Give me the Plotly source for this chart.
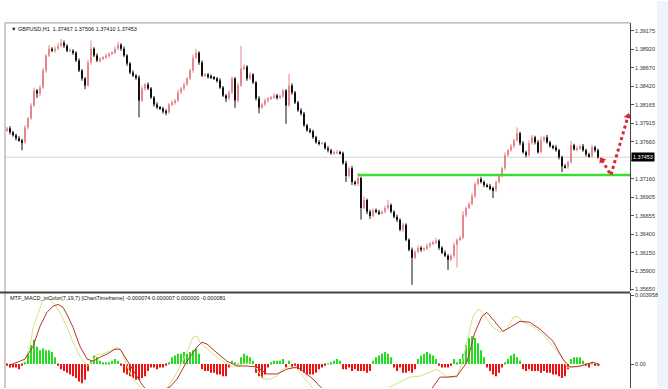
import plotly.graph_objects as go

# ---------------- data ----------------
first_open = 1.37820
closes = [
1.37847, 1.37792, 1.37752, 1.37711, 1.37684, 1.37657, 1.37860, 1.37982, 1.38159, 1.38362,
1.38321, 1.38403, 1.38633, 1.38837, 1.38932, 1.38904, 1.38932, 1.38972, 1.39013, 1.38972,
1.38904, 1.38904, 1.38877, 1.38769, 1.38633, 1.38525, 1.38430, 1.38742, 1.38932, 1.38837,
1.38769, 1.38796, 1.38809, 1.38837, 1.38864, 1.38877, 1.38932, 1.38986, 1.38932, 1.38837,
1.38728, 1.38606, 1.38565, 1.38538, 1.38226, 1.38389, 1.38443, 1.38389, 1.38267, 1.38172,
1.38131, 1.38118, 1.38077, 1.38064, 1.38172, 1.38199, 1.38226, 1.38335, 1.38389, 1.38443,
1.38525, 1.38633, 1.38809, 1.38877, 1.38742, 1.38565, 1.38579, 1.38552, 1.38538, 1.38525,
1.38498, 1.38403, 1.38294, 1.38254, 1.38335, 1.38525, 1.38226, 1.38430, 1.38660, 1.38687,
1.38525, 1.38579, 1.38471, 1.38254, 1.38131, 1.38172, 1.38226, 1.38254, 1.38267, 1.38294,
1.38267, 1.38281, 1.38362, 1.38159, 1.38430, 1.38335, 1.38199, 1.38091, 1.38050, 1.37887,
1.37820, 1.37806, 1.37725, 1.37657, 1.37643, 1.37643, 1.37576, 1.37548, 1.37508, 1.37521,
1.37521, 1.37508, 1.37372, 1.37196, 1.37304, 1.37115, 1.37087, 1.37169, 1.36762, 1.36870,
1.36708, 1.36653, 1.36735, 1.36708, 1.36694, 1.36708, 1.36762, 1.36803, 1.36708, 1.36640,
1.36599, 1.36464, 1.36531, 1.36328, 1.36192, 1.36084, 1.36165, 1.36220, 1.36192, 1.36206,
1.36247, 1.36274, 1.36287, 1.36314, 1.36220, 1.36152, 1.36111, 1.36057, 1.36111, 1.36260,
1.36328, 1.36355, 1.36667, 1.36762, 1.36816, 1.36925, 1.37087, 1.37155, 1.37115, 1.37074,
1.37060, 1.37033, 1.37006, 1.37115, 1.37196, 1.37304, 1.37481, 1.37548, 1.37603, 1.37684,
1.37779, 1.37643, 1.37521, 1.37481, 1.37643, 1.37725, 1.37657, 1.37521, 1.37684, 1.37725,
1.37657, 1.37603, 1.37589, 1.37548, 1.37453, 1.37331, 1.37318, 1.37386, 1.37616, 1.37562,
1.37576, 1.37603, 1.37548, 1.37494, 1.37467, 1.37589, 1.37548, 1.37453]

# wick lengths above / below the body, in pips
upper_wick = [
2,3,2,2,3,2,3,2,3,4, 2,3,4,2,5,2,3,4,5,3,
2,3,2,2,3,2,2,4,11,2, 3,2,2,3,2,2,3,4,2,3,
2,2,3,2,3,4,2,3,2,2, 3,2,2,3,2,3,2,4,2,3,
2,3,4,5,2,3,2,2,3,2, 2,3,2,2,3,3,2,4,31,3,
2,3,2,2,3,2,3,2,2,3, 2,3,2,2,16,3,2,2,3,2,
2,3,2,2,3,2,2,3,2,2, 3,2,2,3,2,3,2,7,2,5,
2,3,2,2,3,2,3,7,2,2, 3,2,3,2,2,3,2,3,2,2,
3,2,3,4,2,2,3,2,2,3, 2,3,5,2,3,4,3,2,3,2,
2,3,2,2,3,2,4,2,3,2, 8,2,3,2,4,3,2,3,5,2,
3,2,2,3,2,2,3,2,6,2, 3,2,3,2,2,3,2,2]
lower_wick = [
2,3,2,3,2,11,2,3,2,2, 6,4,2,3,2,2,3,2,2,3,
2,2,3,2,2,3,5,2,3,2, 2,3,2,2,3,2,2,2,3,2,
3,2,2,3,23,2,3,2,2,3, 2,2,3,4,2,2,3,2,2,3,
2,2,3,2,3,2,2,3,2,2, 3,2,2,5,2,2,10,3,2,2,
3,2,2,3,8,2,2,3,2,2, 3,2,2,25,2,3,2,2,3,2,
2,3,2,2,3,2,2,3,2,2, 3,2,2,8,2,4,2,3,16,2,
3,4,2,2,3,2,2,3,2,2, 3,2,3,2,2,37,2,2,3,2,
2,3,2,2,3,2,2,14,2,3, 31,2,2,3,2,2,3,2,2,3,
2,3,11,3,2,2,3,2,2,3, 2,3,2,3,2,2,3,2,2,3,
2,2,3,2,3,8,2,3,2,2, 3,2,2,3,2,2,3,2]

hist = [
-0.0001,-0.0002,-0.0002,-0.0002,-0.0003,-0.0001,0.0001,0.0006,0.0011,0.0014,
0.0010,0.0008,0.0009,0.0008,0.0008,0.0007,0.0004,-0.0001,-0.0003,-0.0004,
-0.0005,-0.0006,-0.0007,-0.0008,-0.0010,-0.0011,-0.0009,-0.0004,0.0002,0.0005,
0.0004,0.0002,0.0001,0.0001,0.0001,0.0002,0.0003,0.0002,-0.0001,-0.0005,
-0.0006,-0.0007,-0.0008,-0.0009,-0.0009,-0.0008,-0.0007,-0.0004,-0.0002,-0.0002,
-0.0003,-0.0002,-0.0002,-0.0001,0.0001,0.0004,0.0005,0.0006,0.0006,0.0007,
0.0006,0.0007,0.0008,0.0009,0.0006,-0.0003,-0.0004,-0.0004,-0.0005,-0.0005,
-0.0006,-0.0006,-0.0007,-0.0007,-0.0002,0.0002,0.0001,0.00003,0.0004,0.0006,
0.0005,0.0004,0.0002,-0.0005,-0.0007,-0.0008,-0.0006,-0.0002,0.0001,0.0002,
0.0002,0.0002,0.0003,-0.0002,0.0002,-0.0002,-0.0001,-0.0003,-0.0004,-0.0005,
-0.0006,-0.0006,-0.0006,-0.0005,-0.0003,-0.0002,-0.0001,0.00003,0.0001,0.0002,
0.0003,0.0002,-0.0003,-0.0003,-0.0002,-0.0004,-0.0003,-0.0004,-0.0004,-0.0004,
-0.0005,-0.0004,0.0002,0.0004,0.0005,0.0006,0.0007,0.0006,0.0004,-0.0002,
-0.0004,-0.0002,-0.0005,-0.0005,-0.0004,-0.0005,-0.0003,0.0003,0.0005,0.0006,
0.0007,0.0006,0.0005,0.0003,-0.0001,-0.0002,-0.0002,-0.0002,-0.0001,0.0003,
0.0001,0.0003,0.0006,0.0011,0.0015,0.0016,0.0015,0.0012,0.0008,0.0004,
-0.0002,-0.0004,-0.0006,-0.0007,-0.0005,-0.0002,0.0001,0.0003,0.0005,0.0006,
0.0004,0.0002,-0.0003,-0.0004,-0.0003,-0.0004,-0.0004,-0.0004,-0.0005,-0.0004,
-0.0005,-0.0005,-0.0006,-0.0006,-0.0007,-0.0008,-0.0007,-0.0003,0.0003,0.0004,
0.0004,0.0004,0.0002,-0.0001,-0.0002,0.0001,-0.0001,-0.0001]

macd_idx = [5.3,7.7,8.7,10,11.7,13.3,14.3,16,18.3,20.3,22,24.3,26.7,28.3,30,32,34.3,36.7,38.3,40,
            42,44.3,46.7,49.3,53.3,56.7,60,62,63.3,64.3,66.7,68.7,72,75.3,78.7,81,83.3,85.3,87.7,90,
            92,94.3,96.7,98.7,101,103,107.7,114.3,121,125.3,127.7,131,134.3,137.7,141,143.3,146.7,150,152,153.7,
            155.3,157,158.3,160,162,164.3,166.7,168.7,170.3,172,175.3,178.7,182,185,186.7,190,193.3,195.3,197.7]
macd_val = [0.0,0.00103,0.00212,0.00275,0.00356,0.00384,0.00373,0.00344,0.00275,0.00201,0.00126,0.00046,-0.00011,0.00011,0.00057,0.00057,0.00075,0.00098,0.00075,-0.00011,
            -0.00086,-0.00132,-0.00172,-0.00201,-0.00143,-0.00046,0.00069,0.00155,0.00161,0.00126,0.00086,0.00057,0.00017,-0.00017,0.0,0.00011,-0.00029,-0.00086,-0.00086,-0.00069,
            -0.00029,-0.00011,-0.00029,-0.00069,-0.00115,-0.00155,-0.00258,-0.00344,-0.00315,-0.00201,-0.00132,-0.00103,-0.00075,-0.00069,-0.00046,-0.00029,-0.00075,-0.00075,0.00029,0.00161,
            0.00275,0.00315,0.00304,0.00258,0.00212,0.00184,0.00201,0.0027,0.00275,0.00241,0.00218,0.00172,0.00103,0.0004,-0.00017,-0.00017,0.0,0.00011,-0.00006]
signal_idx = [1,6,8.7,11,13.3,15.3,17,18.7,20.3,22,24.3,26.7,28.7,31,33.3,36,37.7,39.3,41.7,43.7,
              45.3,47.7,51,54.3,56.7,60,63.3,65,66.7,69.3,73.3,76.7,80,83.3,86.7,90,93.3,96.7,97.7,102,
              105.3,111,117.7,126,134.3,139.3,142,144.3,146.7,150,153.3,156,158.3,160,162,165.3,167.7,171,174.3,177.7,
              182,185.3,187.7,191,193.3,195.3,197.7]
signal_val = [-0.00006,0.00029,0.00103,0.00218,0.00298,0.00333,0.00344,0.00327,0.00275,0.00212,0.00103,0.00029,0.00017,0.0004,0.00057,0.00086,0.00086,0.0004,-0.00029,-0.00086,
              -0.00126,-0.00166,-0.00155,-0.00132,-0.00086,0.00017,0.00098,0.00126,0.00115,0.00075,0.00017,-0.00011,-0.00011,-0.00017,-0.00057,-0.00057,-0.00029,-0.00017,-0.00029,-0.00086,
              -0.00143,-0.00258,-0.00373,-0.00373,-0.00287,-0.00189,-0.00132,-0.00075,-0.00075,-0.00069,0.00011,0.00184,0.00275,0.00298,0.00258,0.00189,0.00212,0.00247,0.00241,0.00201,
              0.00132,0.00029,-0.00017,-0.00011,0.0,0.00011,-0.00006]

# 1.37410 sits behind the current-price box, so its label is not shown
price_ticks = [1.39175, 1.38920, 1.38670, 1.38420, 1.38165, 1.37915, 1.37660, 1.37410,
               1.37160, 1.36905, 1.36655, 1.36400, 1.36150, 1.35900, 1.35650]
hidden_tick = 1.37410
macd_ticks = [0.003958, 0.0]
macd_tick_text = ["0.003958", "0.00"]
last_price = 1.37453
level_price = 1.3721
level_start = 117
arrow_idx = [198.3, 201.3, 207.0]
arrow_price = [1.37413, 1.37209, 1.38010]

title_main = "\u25bc GBPUSD,H1  1.37467 1.37506 1.37410 1.37453"
title_macd = "MTF_MACD_inColor(7,19,7) [ChartTimeframe] -0.000074 0.000007 0.000000 -0.000081"

# ---------------- build ----------------
PIP = 0.0001
W, H = 668, 389
BULL = "#e8868e"
BEAR = "#111111"
FONT = "Liberation Sans"

n = len(closes)
idx = list(range(n))
opens = [first_open] + closes[:-1]          # each bar opens at the previous close
highs = [max(o, c) + u * PIP for o, c, u in zip(opens, closes, upper_wick)]
lows = [min(o, c) - d * PIP for o, c, d in zip(opens, closes, lower_wick)]

fig = go.Figure()

for bull, col in ((True, BULL), (False, BEAR)):
    sel = [i for i in idx if (closes[i] >= opens[i]) == bull]
    wx, wy = [], []
    for i in sel:
        wx += [i, i, None]
        wy += [lows[i], highs[i], None]
    fig.add_trace(go.Scatter(x=wx, y=wy, mode="lines", line=dict(color=col, width=1),
                             hoverinfo="skip", showlegend=False, xaxis="x", yaxis="y"))
    fig.add_trace(go.Bar(x=sel, y=[max(abs(closes[i] - opens[i]), 0.00004) for i in sel],
                         base=[min(closes[i], opens[i]) for i in sel], width=0.65,
                         marker=dict(color=col, line=dict(width=0)),
                         showlegend=False, xaxis="x", yaxis="y"))

# level line and projected path
fig.add_trace(go.Scatter(x=[level_start, 207.667], y=[level_price, level_price], mode="lines",
                         line=dict(color="#3ddc2f", width=2.5), showlegend=False,
                         xaxis="x", yaxis="y", cliponaxis=False))
fig.add_trace(go.Scatter(x=arrow_idx, y=arrow_price, mode="lines",
                         line=dict(color="#d42a35", width=3, dash="dot"), showlegend=False,
                         xaxis="x", yaxis="y", cliponaxis=False))
fig.add_trace(go.Scatter(x=[arrow_idx[0], arrow_idx[-1]], y=[arrow_price[0], arrow_price[-1]],
                         mode="markers", marker=dict(symbol="triangle-up", size=7, color="#d42a35",
                                                     angle=[-31, 16]),
                         showlegend=False, xaxis="x", yaxis="y", cliponaxis=False))

# MACD panel
pos = [i for i in idx if hist[i] >= 0]
neg = [i for i in idx if hist[i] < 0]
fig.add_trace(go.Bar(x=pos, y=[hist[i] for i in pos], width=0.6, marker=dict(color="#22dd22", line=dict(width=0)),
                     showlegend=False, xaxis="x2", yaxis="y2"))
fig.add_trace(go.Bar(x=neg, y=[hist[i] for i in neg], width=0.6, marker=dict(color="#ee1111", line=dict(width=0)),
                     showlegend=False, xaxis="x2", yaxis="y2"))
fig.add_trace(go.Scatter(x=macd_idx, y=macd_val, mode="lines", line=dict(color="#cfe57e", width=1),
                         showlegend=False, xaxis="x2", yaxis="y2"))
fig.add_trace(go.Scatter(x=signal_idx, y=signal_val, mode="lines", line=dict(color="#b8342c", width=1),
                         showlegend=False, xaxis="x2", yaxis="y2"))

xdom = [5 / W, 630 / W]
xr = [-0.667, 207.667]
axis_style = dict(side="right", ticks="outside", ticklen=3, tickcolor="#555", showline=True,
                  linecolor="#444", linewidth=1, showgrid=False, zeroline=False,
                  tickfont=dict(family=FONT, size=5.5, color="#333"))

fig.update_layout(
    width=W, height=H, margin=dict(l=0, r=0, t=0, b=0),
    paper_bgcolor="white", plot_bgcolor="white", barmode="overlay", showlegend=False,
    xaxis=dict(domain=xdom, range=xr, visible=False, anchor="y"),
    xaxis2=dict(domain=xdom, range=xr, visible=False, anchor="y2"),
    yaxis=dict(domain=[1 - 292 / H, 1 - 22 / H], range=[1.35623, 1.39283], anchor="x",
               tickvals=price_ticks,
               ticktext=["" if v == hidden_tick else f"{v:.5f}" for v in price_ticks], **axis_style),
    yaxis2=dict(domain=[0, 1 - 294 / H], range=[-0.001377, 0.00407], anchor="x2",
                tickvals=macd_ticks, ticktext=macd_tick_text, **axis_style),
    shapes=[
        dict(type="rect", xref="paper", yref="paper", x0=657 / W, x1=1, y0=0, y1=1,
             fillcolor="#eef4fa", line=dict(width=0), layer="below"),
        dict(type="line", xref="paper", yref="y", x0=5 / W, x1=630 / W, y0=last_price, y1=last_price,
             line=dict(color="#d4d4d4", width=1), layer="below"),
        dict(type="line", xref="paper", yref="paper", x0=5 / W, x1=5 / W, y0=0, y1=1 - 22 / H,
             line=dict(color="#9a9a9a", width=1)),
        dict(type="line", xref="paper", yref="paper", x0=5 / W, x1=630 / W, y0=1 - 22 / H, y1=1 - 22 / H,
             line=dict(color="#9a9a9a", width=1)),
        dict(type="line", xref="paper", yref="paper", x0=0, x1=630 / W, y0=1 - 293 / H, y1=1 - 293 / H,
             line=dict(color="#444", width=2)),
    ],
    annotations=[
        dict(text=title_main, xref="paper", yref="paper", x=9 / W, y=1 - 28 / H, xanchor="left",
             yanchor="middle", showarrow=False, font=dict(family=FONT, size=5.5, color="#111")),
        dict(text=title_macd, xref="paper", yref="paper", x=8 / W, y=1 - 298.5 / H, xanchor="left",
             yanchor="middle", showarrow=False, font=dict(family=FONT, size=5.5, color="#111")),
        dict(text=f"{last_price:.5f}", xref="paper", yref="y", x=631 / W, y=last_price, xanchor="left",
             yanchor="middle", showarrow=False, bgcolor="black", borderpad=1,
             font=dict(family=FONT, size=5.5, color="white")),
    ],
)

fig.write_html("out.html")
